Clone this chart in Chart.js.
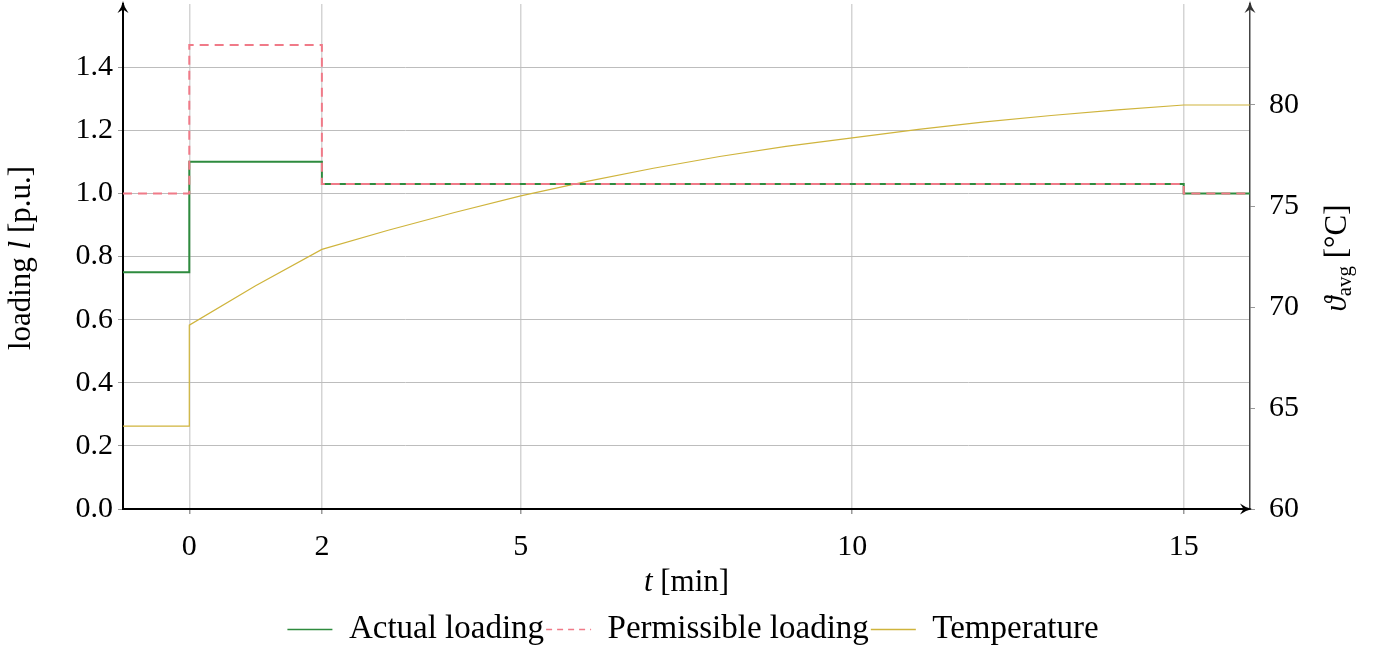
<!DOCTYPE html>
<html>
<head>
<meta charset="utf-8">
<script src="https://cdn.jsdelivr.net/npm/chart.js@4"></script>
<style>
html, body { margin: 0; padding: 0; background: #fff; }
</style>
</head>
<body>
<canvas id="graph" width="1386" height="650"></canvas>
<script>
// tick labels
const timeTicks = [0, 2, 5, 10, 15]
const loadingTicks = [0, 0.2, 0.4, 0.6, 0.8, 1.0, 1.2, 1.4]
const tempTicks = [60, 65, 70, 75, 80]

// loading steps (value holds from its time until the next time)
const stepTimes = [-1, 0, 2, 15, 16]
const actualLoading = [0.75, 1.10, 1.03, 1.00, 1.00]
const permissibleLoading = [1.00, 1.47, 1.03, 1.00, 1.00]

// average temperature
const tempTimes = [-1, 0, 0, 1, 2, 3, 4, 5, 6, 7, 8, 9, 10, 11, 12, 13, 14, 15, 16]
const temperature = [64.1, 64.1, 69.1, 71.05, 72.85, 73.8, 74.68, 75.5, 76.22, 76.87, 77.45, 77.95, 78.37, 78.79, 79.16, 79.48, 79.76, 80.0, 80.0]

const SERIF = "'Liberation Serif', 'DejaVu Serif', serif"
const plotBottom = 509
const padBottom = -6

function pairs(xs, ys) {
	return xs.map((x, i) => ({x: x, y: ys[i]}))
}

function setTicks(list) {
	return function(scale) {
		scale.ticks = list.map(v => ({value: v}))
	}
}

// text made of pieces (italic t, subscript avg ...)
function drawParts(ctx, parts, cx, cy, rot) {
	ctx.save()
	ctx.translate(cx, cy)
	if (rot) ctx.rotate(rot)
	ctx.fillStyle = '#000'
	ctx.textBaseline = 'alphabetic'
	let total = 0
	parts.forEach(p => { ctx.font = p.font; p.w = ctx.measureText(p.text).width; total += p.w })
	let x = -total / 2
	parts.forEach(p => {
		ctx.font = p.font
		ctx.fillText(p.text, x, p.dy || 0)
		x += p.w
	})
	ctx.restore()
}

function arrowHead(ctx, x, y, angle, color) {
	ctx.save()
	ctx.translate(x, y)
	ctx.rotate(angle)
	ctx.fillStyle = color
	ctx.beginPath()
	ctx.moveTo(0, 0)
	ctx.quadraticCurveTo(-6, 1, -12, 5.5)
	ctx.lineTo(-8.5, 0)
	ctx.lineTo(-12, -5.5)
	ctx.quadraticCurveTo(-6, -1, 0, 0)
	ctx.closePath()
	ctx.fill()
	ctx.restore()
}

const extras = {
	id: 'extras',
	afterDraw(chart) {
		const ctx = chart.ctx
		const a = chart.chartArea
		const reg = '31px ' + SERIF
		const ita = 'italic 31px ' + SERIF
		const sub = '21px ' + SERIF

		drawParts(ctx, [{text: 't', font: ita}, {text: ' [min]', font: reg}], (a.left + a.right) / 2, 591)
		drawParts(ctx, [{text: 'loading ', font: reg}, {text: 'l', font: ita}, {text: ' [p.u.]', font: reg}], 30, 258, -Math.PI / 2)
		drawParts(ctx, [{text: 'ϑ', font: ita}, {text: 'avg', font: sub, dy: 5}, {text: ' [°C]', font: reg}], 1346, 258, -Math.PI / 2)

		arrowHead(ctx, a.left, 1, -Math.PI / 2, '#000')
		arrowHead(ctx, a.right, 1, -Math.PI / 2, '#333')
		arrowHead(ctx, a.right + 2, a.bottom, 0, '#000')
	}
}

// legend lines take the dataset's own dash, thinner
function legendLabels(chart) {
	const items = Chart.defaults.plugins.legend.labels.generateLabels(chart)
	items.forEach(item => {
		const ds = chart.data.datasets[item.datasetIndex]
		item.lineDash = ds.legendDash || []
		item.lineWidth = 1.5
		item.strokeStyle = ds.borderColor
	})
	return items
}

Chart.defaults.color = '#000'
Chart.defaults.font.family = SERIF

const ctx = document.getElementById('graph')

new Chart(ctx, {
	type: 'line',
	data: {
		datasets: [{
			label: 'Actual loading',
			data: pairs(stepTimes, actualLoading),
			stepped: 'before',
			borderColor: '#2e8b3e',
			borderWidth: 2,
			pointRadius: 0,
			yAxisID: 'y',
			order: 2
		},
		{
			label: 'Permissible loading',
			data: pairs(stepTimes, permissibleLoading),
			stepped: 'before',
			borderColor: '#f07a88',
			borderDash: [9, 6],
			legendDash: [6, 5],
			borderWidth: 2,
			pointRadius: 0,
			yAxisID: 'y',
			order: 1
		},
		{
			label: 'Temperature',
			data: pairs(tempTimes, temperature),
			borderColor: '#cfb43c',
			borderWidth: 1.2,
			pointRadius: 0,
			tension: 0,
			yAxisID: 'y2',
			order: 3
		}]
	},
	options: {
		responsive: false,
		animation: false,
		events: [],
		layout: { padding: { top: 4, left: 0, right: 0, bottom: padBottom } },
		plugins: {
			tooltip: { enabled: false },
			legend: {
				position: 'bottom',
				labels: {
					font: { size: 33, family: SERIF, lineHeight: 1.0 },
					color: '#000',
					usePointStyle: true,
					pointStyle: 'line',
					pointStyleWidth: 45,
					padding: 2,
					generateLabels: legendLabels,
					sort: (a, b) => a.datasetIndex - b.datasetIndex
				}
			}
		},
		scales: {
			x: {
				type: 'linear',
				min: -1,
				max: 16,
				afterBuildTicks: setTicks(timeTicks),
				ticks: { font: { size: 30 }, padding: 15, maxRotation: 0, autoSkip: false },
				grid: { color: 'rgba(0,0,0,0.17)', lineWidth: 1.5, tickLength: 5, tickColor: '#999' },
				border: { color: '#000', width: 2 },
				afterFit: function(s) {
					s.height = s.chart.height - padBottom - plotBottom - (s.chart.legend ? s.chart.legend.height : 0)
					s.paddingLeft = 0
					s.paddingRight = 0
				}
			},
			y: {
				type: 'linear',
				position: 'left',
				min: 0,
				max: 1.6,
				afterBuildTicks: setTicks(loadingTicks),
				ticks: { font: { size: 30 }, padding: 5, callback: v => v.toFixed(1) },
				grid: { color: '#bdbdbd', lineWidth: 1, tickLength: 5, tickColor: '#999' },
				border: { color: '#000', width: 2 },
				afterFit: function(s) {
					s.width = 123
					s.paddingTop = 0
					s.paddingBottom = 0
				}
			},
			y2: {
				type: 'linear',
				position: 'right',
				min: 60,
				max: 85,
				afterBuildTicks: setTicks(tempTicks),
				ticks: { font: { size: 30 }, padding: 14 },
				grid: { drawOnChartArea: false, tickLength: 5, tickColor: '#999' },
				border: { color: '#444', width: 1.5 },
				afterFit: function(s) {
					s.width = 136
					s.paddingTop = 0
					s.paddingBottom = 0
				}
			}
		}
	},
	plugins: [extras]
})
</script>
</body>
</html>
